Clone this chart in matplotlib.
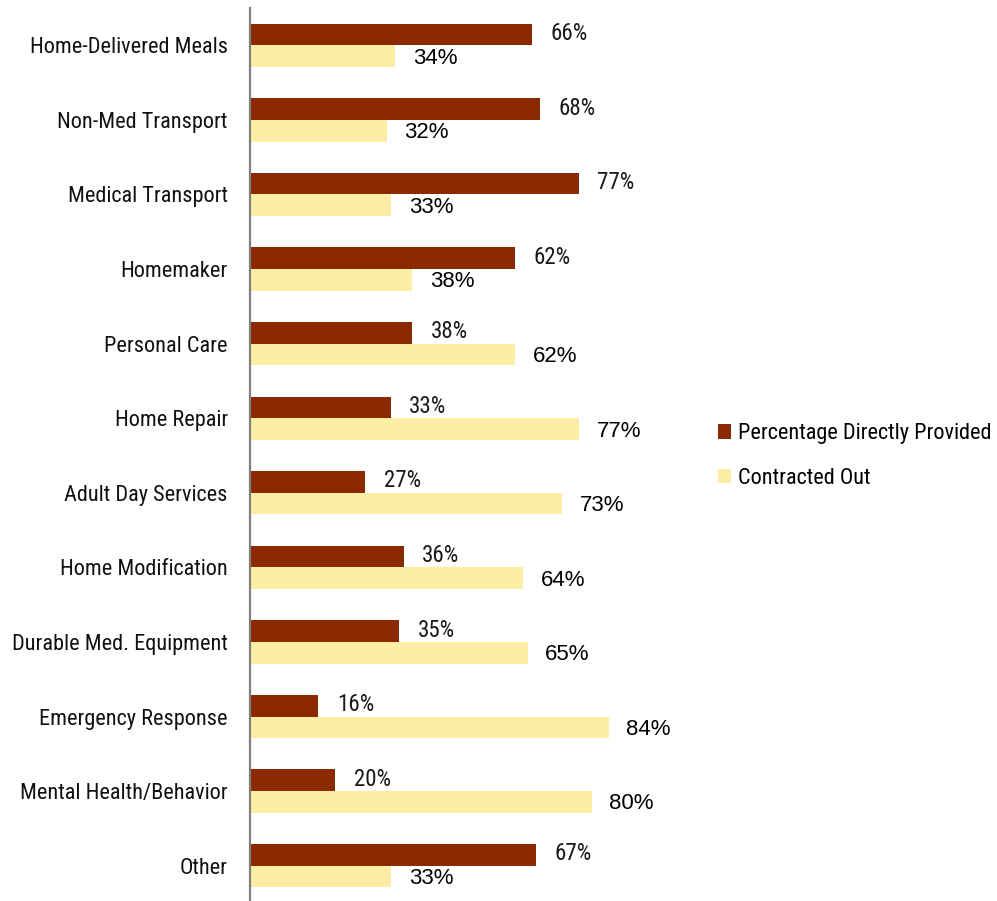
import matplotlib; matplotlib.use("Agg")
import matplotlib.pyplot as plt
import numpy as np

NARROW = "Roboto Condensed"
REG = "Liberation Sans"

cats = ["Home-Delivered Meals", "Non-Med Transport", "Medical Transport", "Homemaker",
        "Personal Care", "Home Repair", "Adult Day Services", "Home Modification",
        "Durable Med. Equipment", "Emergency Response", "Mental Health/Behavior", "Other"]
direct = [66, 68, 77, 62, 38, 33, 27, 36, 35, 16, 20, 67]
contracted = [34, 32, 33, 38, 62, 77, 73, 64, 65, 84, 80, 33]

DARK = "#8B2A00"; LIGHT = "#FEEDA4"
fig = plt.figure(figsize=(9.97, 9.01), dpi=100)
ax = fig.add_axes([250/997, -2/901, 427/997, 895/901])
y = np.arange(len(cats))
h = 0.29
b1 = ax.barh(y - h/2, direct, h, color=DARK, label="Percentage Directly Provided")
b2 = ax.barh(y + h/2, contracted, h, color=LIGHT, label="Contracted Out")
ax.set_ylim(len(cats) - 0.5, -0.5)
ax.set_xlim(0, 100)
ax.set_yticks(y)
ax.set_yticklabels(cats, family=NARROW, fontsize=16, color="#111111")
ax.tick_params(axis="y", length=0, pad=16)
ax.set_xticks([])
for s in ["top", "right", "bottom"]:
    ax.spines[s].set_visible(False)
ax.spines["left"].set_color("#808080"); ax.spines["left"].set_linewidth(1.6)

# value labels
for r, v in zip(b1, direct):
    ax.annotate(f"{v}%", (r.get_width(), r.get_y() + r.get_height()/2), xytext=(37, 1),
                textcoords="offset pixels", ha="center", va="center", family=NARROW, fontsize=16.5, color="#1a1a1a")
for r, v in zip(b2, contracted):
    ax.annotate(f"{v}%", (r.get_width(), r.get_y() + r.get_height()/2), xytext=(40, -2),
                textcoords="offset pixels", ha="center", va="center", family=REG, fontsize=16, color="#000000")

fig.legend(loc="center left", bbox_to_anchor=(698/997, 1 - 456/901), frameon=False,
           prop={"family": NARROW, "size": 16}, handlelength=0.6, handleheight=0.6,
           handletextpad=0.3, labelspacing=1.05)
fig.savefig("out.png", dpi=100)
